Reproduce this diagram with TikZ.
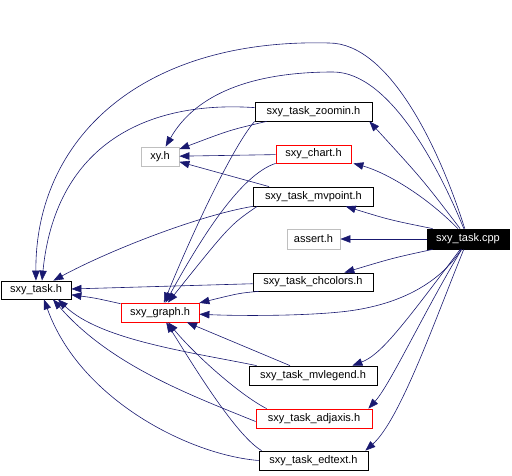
\documentclass[tikz,border=0pt]{standalone}
\usepackage{fontspec}
\setmainfont{Liberation Sans}
\usetikzlibrary{arrows.meta}
\definecolor{edgeblue}{HTML}{191970}
\definecolor{boxgray}{HTML}{BFBFBF}
\tikzset{
  box/.style={draw=black, rectangle, inner sep=0pt, minimum height=19pt, line width=0.8pt, font=\fontsize{11}{13}\selectfont},
  graybox/.style={box, draw=boxgray},
  redbox/.style={box, draw=red},
  cppbox/.style={box, fill=black, text=white},
  edge/.style={draw=edgeblue, line width=0.6pt, -{Triangle[length=10pt,width=7.5pt]}},
}
\begin{document}
\begin{tikzpicture}[x=1pt,y=-1pt]
\useasboundingbox (0,0) rectangle (512,476);
% nodes
\node[cppbox, minimum width=82pt, minimum height=20pt] (cpp) at (468,239) {sxy\_task.cpp};
\node[graybox, minimum width=53pt, minimum height=20pt] (asserth) at (313.5,239) {assert.h};
\node[box, minimum width=117pt] (zoomin) at (313.5,111.5) {sxy\_task\_zoomin.h};
\node[graybox, minimum width=38pt] (xyh) at (160,156.5) {xy.h};
\node[redbox, minimum width=75pt, minimum height=18pt] (chart) at (313.5,154) {sxy\_chart.h};
\node[box, minimum width=120pt] (mvpoint) at (313.5,196.5) {sxy\_task\_mvpoint.h};
\node[box, minimum width=70pt, minimum height=18pt] (taskh) at (36,290) {sxy\_task.h};
\node[redbox, minimum width=78pt] (graph) at (160,312.5) {sxy\_graph.h};
\node[box, minimum width=120pt, minimum height=18pt] (chcolors) at (313,282) {sxy\_task\_chcolors.h};
\node[box, minimum width=128pt] (mvlegend) at (313,375.5) {sxy\_task\_mvlegend.h};
\node[redbox, minimum width=116pt] (adjaxis) at (314,418.5) {sxy\_task\_adjaxis.h};
\node[box, minimum width=109pt] (edtext) at (313.5,460.5) {sxy\_task\_edtext.h};

% edges from sxy_task.cpp
\draw[edge] (cpp) .. controls (440,150) and (390,43) .. (329,43) .. controls (140,38) and (35,140) .. (taskh);
\draw[edge] (cpp) .. controls (440,170) and (390,72) .. (333,72) .. controls (250,72) and (195,95) .. (xyh);
\draw[edge] (cpp) .. controls (423,180) .. ([xshift=-3pt]zoomin.south east);
\draw[edge] (cpp) .. controls (425,195) and (385,172) .. ([xshift=2pt]chart.south east);
\draw[edge] ([xshift=6pt]cpp.north west) .. controls (390,220) .. (mvpoint);
\draw[edge] (cpp) -- (asserth);
\draw[edge] ([xshift=6pt]cpp.south west) .. controls (393,258) .. (chcolors);
\draw[edge] (cpp) .. controls (445,275) and (410,305) .. (340,312) .. controls (300,316) and (240,316) .. (graph);
\draw[edge] (cpp) .. controls (400,330) and (380,355) .. ([xshift=-25pt]mvlegend.north east);
\draw[edge] (cpp) .. controls (425,310) and (390,385) .. ([xshift=-4pt]adjaxis.north east);
\draw[edge] (cpp) .. controls (435,320) and (400,420) .. ([xshift=-3pt]edtext.north east);

% edges from sxy_task_zoomin.h
\draw[edge] (zoomin) .. controls (140,100) and (55,150) .. ([xshift=6pt]taskh.north);
\draw[edge] ([xshift=12pt]zoomin.south west) .. controls (230,130) .. (xyh);
\draw[edge] (zoomin.south west) .. controls (230,150) and (185,250) .. (graph);

% edges from sxy_chart.h
\draw[edge] (chart) -- (xyh);
\draw[edge] (chart.south west) .. controls (240,175) and (200,240) .. (graph);

% edges from sxy_task_mvpoint.h
\draw[edge] ([xshift=16pt]mvpoint.north west) -- (xyh);
\draw[edge] (mvpoint) .. controls (200,215) and (110,250) .. (taskh);
\draw[edge] ([xshift=4pt]mvpoint.south west) .. controls (230,225) .. (graph);

% edges from sxy_task_chcolors.h
\draw[edge] (chcolors) -- (taskh);
\draw[edge] ([xshift=6pt]chcolors.south west) .. controls (240,293) .. (graph);

% edge from sxy_graph.h
\draw[edge] (graph) .. controls (95,298) .. (taskh);

% edges from sxy_task_mvlegend.h
\draw[edge] ([xshift=8pt]mvlegend.north west) .. controls (190,352) and (100,340) .. ([xshift=22pt]taskh.south);
\draw[edge] ([xshift=-23pt]mvlegend.north) -- ([xshift=27pt]graph.south);

% edges from sxy_task_adjaxis.h
\draw[edge] ([yshift=-3pt]adjaxis.west) .. controls (190,395) and (110,365) .. ([xshift=17pt]taskh.south);
\draw[edge] ([xshift=11pt]adjaxis.north west) .. controls (240,395) and (195,355) .. (graph);

% edges from sxy_task_edtext.h
\draw[edge] (edtext.west) .. controls (190,455) and (80,400) .. ([xshift=8pt]taskh.south);
\draw[edge] ([xshift=3pt]edtext.north west) .. controls (235,435) and (190,360) .. (graph);
\end{tikzpicture}
\end{document}
